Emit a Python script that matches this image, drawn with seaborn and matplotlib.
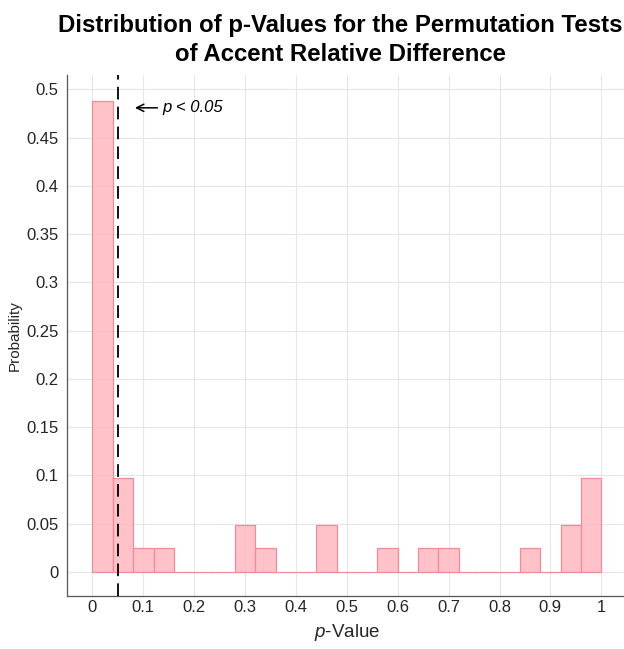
import numpy as np
import matplotlib
matplotlib.use("Agg")
import matplotlib.pyplot as plt
import seaborn as sns

# Histogram of permutation-test p-values (bin width 0.04, normalised to probability)
bin_edges = [round(0.04 * i, 2) for i in range(26)]
bin_probability = [0.4878, 0.0976, 0.0244, 0.0244, 0.0, 0.0, 0.0, 0.0488, 0.0244,
                   0.0, 0.0, 0.0488, 0.0, 0.0, 0.0244, 0.0, 0.0244, 0.0244,
                   0.0, 0.0, 0.0, 0.0244, 0.0, 0.0488, 0.0976]
alpha_level = 0.05
x_ticks = [0, 0.1, 0.2, 0.3, 0.4, 0.5, 0.6, 0.7, 0.8, 0.9, 1]
x_tick_labels = ["0", "0.1", "0.2", "0.3", "0.4", "0.5", "0.6", "0.7", "0.8", "0.9", "1"]
y_ticks = [0, 0.05, 0.1, 0.15, 0.2, 0.25, 0.3, 0.35, 0.4, 0.45, 0.5]
y_tick_labels = ["0", "0.05", "0.1", "0.15", "0.2", "0.25", "0.3", "0.35", "0.4", "0.45", "0.5"]

sns.set_style("whitegrid")
plt.rcParams["font.family"] = ["Liberation Sans", "DejaVu Sans"]
plt.rcParams["mathtext.fontset"] = "custom"
plt.rcParams["mathtext.it"] = "Liberation Sans:italic"
plt.rcParams["mathtext.rm"] = "Liberation Sans"

centers = [(bin_edges[i] + bin_edges[i + 1]) / 2 for i in range(len(bin_probability))]

fig = plt.figure(figsize=(6.24, 6.49), dpi=100)
ax = fig.add_axes([0.1074, 0.0817, 0.897, 0.8027])

sns.histplot(x=centers, weights=bin_probability, bins=bin_edges, ax=ax,
             stat="count", element="bars", fill=True,
             color="#FFB8C0", alpha=0.85, edgecolor="#F08C98", linewidth=0.9)

ax.axvline(alpha_level, color="black", linestyle=(0, (7, 4)), linewidth=1.3, zorder=5)
ax.annotate("", xy=(0.078, 0.481), xytext=(0.133, 0.481),
            arrowprops=dict(arrowstyle="->", color="black", lw=1.1,
                            mutation_scale=13))
ax.text(0.1375, 0.481, "p < 0.05", fontstyle="italic", fontsize=12,
        va="center", ha="left", color="black")

ax.set_xlim(-0.05, 1.05)
ax.set_ylim(-0.025, 0.515)
ax.set_xticks(x_ticks)
ax.set_xticklabels(x_tick_labels)
ax.set_yticks(y_ticks)
ax.set_yticklabels(y_tick_labels)
ax.tick_params(axis="both", direction="in", length=5, width=0.8, colors="#444444",
               labelsize=12, labelcolor="#262626")
ax.tick_params(axis="y", pad=6)
ax.tick_params(axis="x", pad=3)

ax.grid(True, color="#E6E6E6", linewidth=0.8)
ax.set_axisbelow(True)
for side in ["top", "right"]:
    ax.spines[side].set_visible(False)
for side in ["left", "bottom"]:
    ax.spines[side].set_color("#555555")
    ax.spines[side].set_linewidth(0.9)

ax.set_xlabel(r"$\it{p}$-Value", fontsize=13.5, color="#262626", labelpad=5)
ax.set_ylabel("Probability", fontsize=11, color="#262626", labelpad=3)

fig.text(0.545, 0.899, "Distribution of p-Values for the Permutation Tests\nof Accent Relative Difference",
         ha="center", va="bottom", fontsize=17.3, fontweight="bold", linespacing=1.3,
         color="black")

fig.savefig("out.png", dpi=100)
